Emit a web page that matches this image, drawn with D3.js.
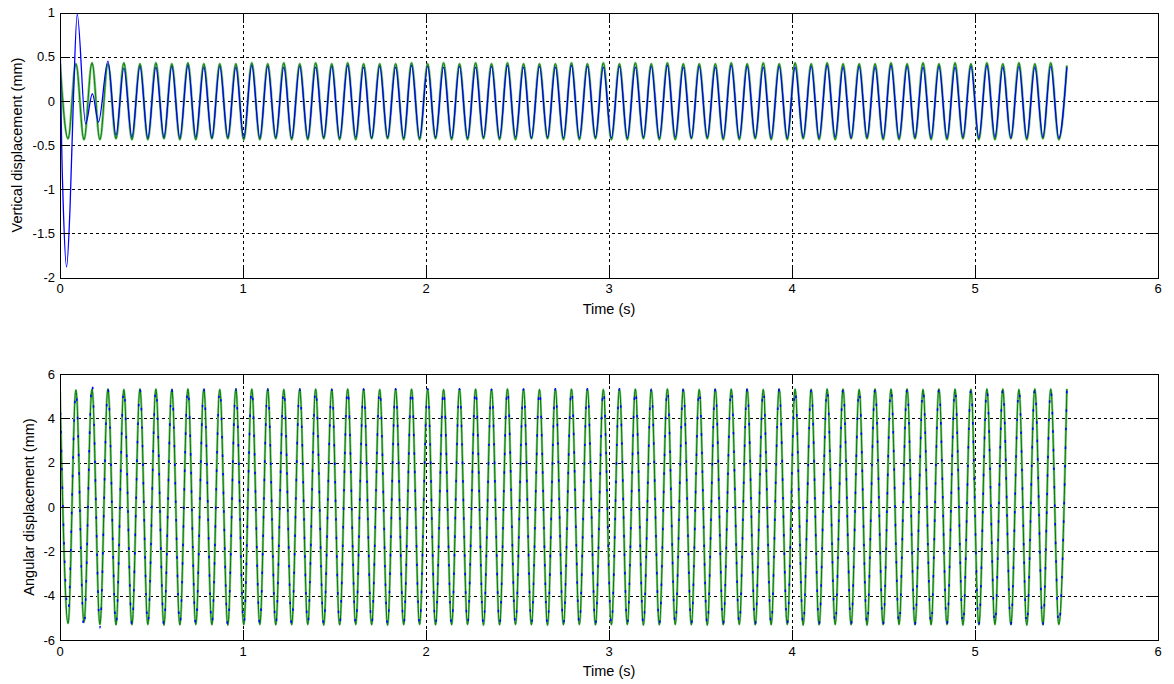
<!DOCTYPE html>
<html><head><meta charset="utf-8">
<script src="https://cdn.jsdelivr.net/npm/d3@7"></script>
<style>
body{margin:0;background:#fff}
svg{display:block}
text{font-family:Arial,"Liberation Sans",sans-serif;fill:#000}
</style>
</head><body>
<svg id="chart" width="1174" height="684"></svg>
<script>
// ---------- data ----------
const timeTicks = [0, 1, 2, 3, 4, 5, 6];
const vertTicks = [-2, -1.5, -1, -0.5, 0, 0.5, 1];
const angTicks  = [-6, -4, -2, 0, 2, 4, 6];

// times (s) of the successive peaks / troughs of the steady oscillation
const extremaTimes = [0.000,0.044,0.087,0.131,0.175,0.218,0.262,0.306,0.349,0.393,
0.437,0.480,0.524,0.568,0.611,0.655,0.699,0.742,0.786,0.830,
0.873,0.917,0.961,1.004,1.048,1.092,1.135,1.179,1.223,1.266,
1.310,1.354,1.397,1.441,1.485,1.528,1.572,1.616,1.659,1.703,
1.747,1.790,1.834,1.878,1.921,1.965,2.009,2.052,2.096,2.140,
2.183,2.227,2.271,2.314,2.358,2.402,2.445,2.489,2.533,2.576,
2.620,2.664,2.707,2.751,2.795,2.838,2.882,2.926,2.969,3.013,
3.057,3.100,3.144,3.188,3.231,3.275,3.319,3.362,3.406,3.450,
3.493,3.537,3.581,3.624,3.668,3.712,3.755,3.799,3.843,3.886,
3.930,3.974,4.017,4.061,4.105,4.148,4.192,4.236,4.279,4.323,
4.367,4.410,4.454,4.498,4.541,4.585,4.629,4.672,4.716,4.760,
4.803,4.847,4.891,4.934,4.978,5.021,5.065,5.109,5.152,5.196,
5.240,5.283,5.327,5.371,5.414,5.458,5.502];

// vertical displacement (mm), green series, one value per extremum
const vertGreen = [0.42,-0.43,0.42,-0.44,0.43,-0.44,0.42,-0.43,0.43,-0.44,
0.42,-0.44,0.43,-0.43,0.42,-0.44,0.43,-0.44,0.42,-0.43,
0.42,-0.43,0.42,-0.44,0.43,-0.44,0.42,-0.43,0.43,-0.44,
0.42,-0.44,0.43,-0.43,0.42,-0.44,0.43,-0.44,0.42,-0.43,
0.42,-0.43,0.42,-0.44,0.43,-0.44,0.42,-0.43,0.43,-0.44,
0.42,-0.44,0.43,-0.43,0.42,-0.44,0.43,-0.44,0.42,-0.43,
0.42,-0.43,0.42,-0.44,0.43,-0.44,0.42,-0.43,0.43,-0.44,
0.42,-0.44,0.43,-0.43,0.42,-0.44,0.43,-0.44,0.42,-0.43,
0.42,-0.43,0.42,-0.44,0.43,-0.44,0.42,-0.43,0.43,-0.44,
0.42,-0.44,0.43,-0.43,0.42,-0.44,0.43,-0.44,0.42,-0.43,
0.42,-0.43,0.42,-0.44,0.43,-0.44,0.42,-0.43,0.43,-0.44,
0.42,-0.44,0.43,-0.43,0.42,-0.44,0.43,-0.44,0.42,-0.43,
0.43,-0.44,0.42,-0.43,0.43,-0.44,0.40];

// vertical displacement, blue series: start-up transient ...
const vertBlueStartTimes = [0, 0.009, 0.018, 0.036, 0.055, 0.073, 0.094, 0.140, 0.177, 0.210];
const vertBlueStart      = [0.82, -0.5, -1.2, -1.88, -1.2, 0.0, 0.98, -0.26, 0.08, -0.24];
// ... then one value per extremum from the 7th extremum on
const vertBlue = [0.45,-0.39,0.37,-0.41,
0.39,-0.42,0.38,-0.41,0.39,-0.42,0.40,-0.41,0.38,-0.42,
0.39,-0.41,0.38,-0.42,0.40,-0.42,0.39,-0.41,0.38,-0.42,
0.39,-0.42,0.38,-0.41,0.39,-0.42,0.40,-0.41,0.38,-0.42,
0.39,-0.41,0.38,-0.42,0.40,-0.42,0.39,-0.41,0.38,-0.42,
0.39,-0.42,0.38,-0.41,0.39,-0.42,0.40,-0.41,0.38,-0.42,
0.39,-0.41,0.38,-0.42,0.40,-0.42,0.39,-0.41,0.38,-0.42,
0.39,-0.42,0.38,-0.41,0.39,-0.42,0.40,-0.41,0.38,-0.42,
0.39,-0.41,0.38,-0.42,0.40,-0.42,0.39,-0.41,0.38,-0.42,
0.39,-0.42,0.38,-0.41,0.39,-0.42,0.40,-0.41,0.38,-0.42,
0.39,-0.41,0.38,-0.42,0.40,-0.42,0.39,-0.41,0.38,-0.42,
0.39,-0.42,0.38,-0.41,0.39,-0.42,0.40,-0.41,0.38,-0.42,
0.39,-0.42,0.38,-0.41,0.39,-0.42,0.38];

// angular displacement (mm), green series, one value per extremum
const angGreen = [5.2,-5.25,5.28,-5.2,
5.32,-5.3,5.33,-5.32,5.3,-5.31,5.33,-5.3,5.32,-5.33,
5.31,-5.32,5.33,-5.3,5.32,-5.31,5.3,-5.33,5.33,-5.31,
5.32,-5.3,5.33,-5.32,5.3,-5.31,5.33,-5.3,5.32,-5.33,
5.31,-5.32,5.33,-5.3,5.32,-5.31,5.3,-5.33,5.33,-5.31,
5.32,-5.3,5.33,-5.32,5.3,-5.31,5.33,-5.3,5.32,-5.33,
5.31,-5.32,5.33,-5.3,5.32,-5.31,5.3,-5.33,5.33,-5.31,
5.32,-5.3,5.33,-5.32,5.3,-5.31,5.33,-5.3,5.32,-5.33,
5.31,-5.32,5.33,-5.3,5.32,-5.31,5.3,-5.33,5.33,-5.31,
5.32,-5.3,5.33,-5.32,5.3,-5.31,5.33,-5.3,5.32,-5.33,
5.31,-5.32,5.33,-5.3,5.32,-5.31,5.3,-5.33,5.33,-5.31,
5.32,-5.3,5.33,-5.32,5.3,-5.31,5.33,-5.3,5.32,-5.33,
5.31,-5.32,5.33,-5.3,5.32,-5.31,5.3,-5.33,5.33,-5.31,
5.32,-5.3,5.33];

// angular displacement, blue series, one value per extremum
const angBlue = [5.1,-4.7,5.2,-5.5,5.6,-5.45,
5.33,-5.32,5.3,-5.31,5.33,-5.3,5.32,-5.33,
5.31,-5.32,5.33,-5.3,5.32,-5.31,5.3,-5.33,5.33,-5.31,
5.32,-5.3,5.33,-5.32,5.3,-5.31,5.33,-5.3,5.32,-5.33,
5.31,-5.32,5.33,-5.3,5.32,-5.31,5.3,-5.33,5.33,-5.31,
5.32,-5.3,5.33,-5.32,5.3,-5.31,5.33,-5.3,5.32,-5.33,
5.31,-5.32,5.33,-5.3,5.32,-5.31,5.3,-5.33,5.33,-5.31,
5.32,-5.3,5.33,-5.32,5.3,-5.31,5.33,-5.3,5.32,-5.33,
5.31,-5.32,5.33,-5.3,5.32,-5.31,5.3,-5.33,5.33,-5.31,
5.32,-5.3,5.33,-5.32,5.3,-5.31,5.33,-5.3,5.32,-5.33,
5.31,-5.32,5.33,-5.3,5.32,-5.31,5.3,-5.33,5.33,-5.31,
5.32,-5.3,5.33,-5.32,5.3,-5.31,5.33,-5.3,5.32,-5.33,
5.31,-5.32,5.33,-5.3,5.32,-5.31,5.3,-5.33,5.33,-5.31,
5.32,-5.3,5.33];

// ---------- drawing ----------
const svg = d3.select("#chart");
const LEFT = 60, RIGHT = 1158;
const x = d3.scaleLinear().domain([0, 6]).range([LEFT, RIGHT]);

const pairs = (ts, vs) => ts.map((t, i) => [t, vs[i]]);

function panel(opt) {
  const y = d3.scaleLinear().domain([opt.yTicks[0], opt.yTicks[opt.yTicks.length - 1]]).range([opt.bottom, opt.top]);
  const g = svg.append("g");
  const cl = "clip" + Math.round(opt.top);
  svg.append("clipPath").attr("id", cl).append("rect")
    .attr("x", LEFT).attr("y", opt.top).attr("width", RIGHT - LEFT).attr("height", opt.bottom - opt.top);

  // grid (dotted)
  const grid = g.append("g").attr("stroke", "#000").attr("stroke-width", 1)
    .attr("stroke-dasharray", "3,3").attr("shape-rendering", "crispEdges");
  grid.selectAll(".h").data(opt.yTicks.slice(1, -1)).join("line")
    .attr("x1", LEFT).attr("x2", RIGHT)
    .attr("y1", d => Math.round(y(d)) + 0.5).attr("y2", d => Math.round(y(d)) + 0.5);
  grid.selectAll(".v").data(timeTicks.slice(1, -1)).join("line")
    .attr("y1", opt.top).attr("y2", opt.bottom)
    .attr("x1", d => Math.round(x(d)) + 0.5).attr("x2", d => Math.round(x(d)) + 0.5);

  // series
  const line = d3.line().x(d => x(d[0])).y(d => y(d[1])).curve(d3.curveMonotoneX);
  const sg = g.append("g").attr("clip-path", `url(#${cl})`).attr("fill", "none");
  opt.series.forEach(s => {
    s.strokes.forEach(st => {
      sg.append("path").datum(s.data).attr("d", line)
        .attr("stroke", st.color).attr("stroke-width", st.width)
        .attr("stroke-dasharray", st.dash || null)
        .attr("stroke-linejoin", "round");
    });
  });

  // ticks (inward on all four sides)
  const tk = g.append("g").attr("stroke", "#000").attr("stroke-width", 1).attr("shape-rendering", "crispEdges");
  const TL = 10;
  timeTicks.forEach(t => {
    const xx = Math.round(x(t)) + 0.5;
    tk.append("line").attr("x1", xx).attr("x2", xx).attr("y1", opt.bottom).attr("y2", opt.bottom - TL);
    tk.append("line").attr("x1", xx).attr("x2", xx).attr("y1", opt.top).attr("y2", opt.top + TL);
  });
  opt.yTicks.forEach(v => {
    const yy = Math.round(y(v)) + 0.5;
    tk.append("line").attr("x1", LEFT).attr("x2", LEFT + TL).attr("y1", yy).attr("y2", yy);
    tk.append("line").attr("x1", RIGHT).attr("x2", RIGHT - TL).attr("y1", yy).attr("y2", yy);
  });

  // box
  g.append("rect").attr("x", LEFT + 0.5).attr("y", Math.round(opt.top) + 0.5)
    .attr("width", RIGHT - LEFT).attr("height", Math.round(opt.bottom - opt.top))
    .attr("fill", "none").attr("stroke", "#000").attr("stroke-width", 1).attr("shape-rendering", "crispEdges");

  // tick labels
  g.selectAll(".xl").data(timeTicks).join("text")
    .attr("x", d => x(d)).attr("y", opt.bottom + 15.5)
    .attr("text-anchor", "middle").attr("font-size", 13).text(d => String(d));
  g.selectAll(".yl").data(opt.yTicks).join("text")
    .attr("x", 55).attr("y", d => y(d)).attr("dy", "0.36em")
    .attr("text-anchor", "end").attr("font-size", 13).text(d => String(d));

  // axis titles
  g.append("text").attr("x", (LEFT + RIGHT) / 2).attr("y", opt.bottom + 36)
    .attr("text-anchor", "middle").attr("font-size", 14.5).text("Time (s)");
  g.append("text").attr("transform", `translate(${opt.yLabelX},${(opt.top + opt.bottom) / 2}) rotate(-90)`)
    .attr("text-anchor", "middle").attr("font-size", 14.5).text(opt.yLabel);
}

panel({
  top: 12.5, bottom: 277.5, yTicks: vertTicks, yLabel: "Vertical displacement (mm)", yLabelX: 22,
  series: [
    { data: pairs(extremaTimes, vertGreen),
      strokes: [{ color: "#86c386", width: 2.6 }, { color: "#008000", width: 1 }] },
    { data: pairs(vertBlueStartTimes, vertBlueStart).concat(pairs(extremaTimes.slice(6), vertBlue)),
      strokes: [{ color: "#0000ff", width: 1.3 }] }
  ]
});

panel({
  top: 374, bottom: 640, yTicks: angTicks, yLabel: "Angular displacement (mm)", yLabelX: 34,
  series: [
    { data: pairs(extremaTimes, angGreen),
      strokes: [{ color: "#86c386", width: 2.4 }, { color: "#008000", width: 1 }] },
    { data: pairs(extremaTimes, angBlue),
      strokes: [{ color: "#0000ff", width: 1.6, dash: "2.5,16" }] }
  ]
});
</script>
</body></html>
